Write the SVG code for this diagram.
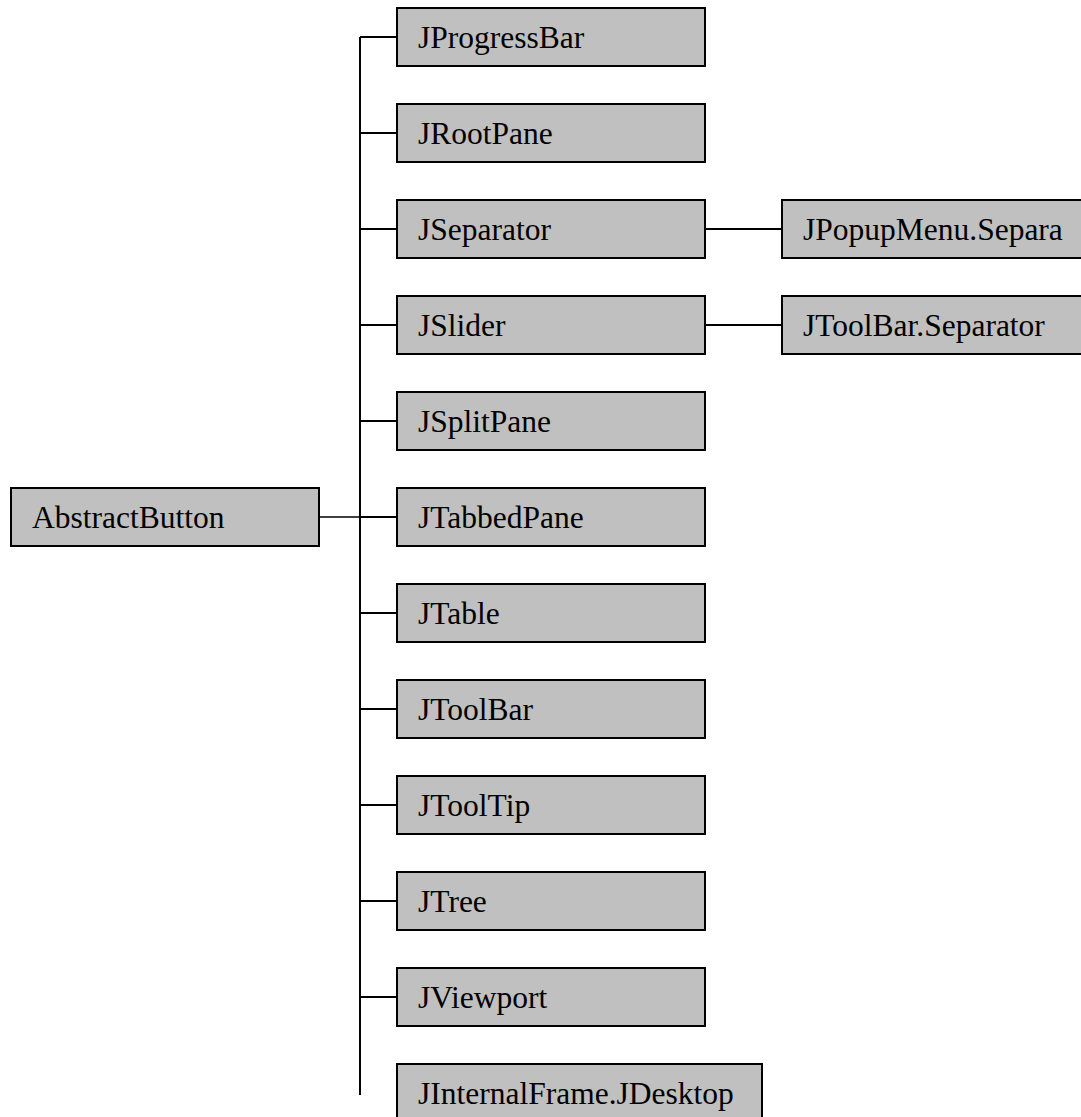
<svg xmlns="http://www.w3.org/2000/svg" width="1081" height="1117" viewBox="0 0 1081 1117">
<style>
.box{fill:#c0c0c0;stroke:#000;stroke-width:2}
.lbl{font-family:"Liberation Serif","Times New Roman",serif;font-size:31.5px;fill:#000}
.con{stroke:#000;stroke-width:2;fill:none}
</style>
<rect width="1081" height="1117" fill="#fff"/>
<g id="connectors">
<path class="con" d="M360 37V1095"/>
<path class="con" d="M319 517H360" style="stroke-width:1.5"/>
<path class="con" d="M360 37H397M360 133H397M360 229H397M360 325H397M360 421H397M360 517H397M360 613H397M360 709H397M360 805H397M360 901H397M360 997H397"/>
<path class="con" d="M705 229H782M705 325H782"/>
</g>
<g id="AbstractButton"><rect class="box" x="11" y="488" width="308" height="58"/><text class="lbl" x="32" y="528">AbstractButton</text></g>
<g id="JProgressBar"><rect class="box" x="397" y="8" width="308" height="58"/><text class="lbl" x="418" y="48">JProgressBar</text></g>
<g id="JRootPane"><rect class="box" x="397" y="104" width="308" height="58"/><text class="lbl" x="418" y="144">JRootPane</text></g>
<g id="JSeparator"><rect class="box" x="397" y="200" width="308" height="58"/><text class="lbl" x="418" y="240">JSeparator</text></g>
<g id="JSlider"><rect class="box" x="397" y="296" width="308" height="58"/><text class="lbl" x="418" y="336">JSlider</text></g>
<g id="JSplitPane"><rect class="box" x="397" y="392" width="308" height="58"/><text class="lbl" x="418" y="432">JSplitPane</text></g>
<g id="JTabbedPane"><rect class="box" x="397" y="488" width="308" height="58"/><text class="lbl" x="418" y="528">JTabbedPane</text></g>
<g id="JTable"><rect class="box" x="397" y="584" width="308" height="58"/><text class="lbl" x="418" y="624">JTable</text></g>
<g id="JToolBar"><rect class="box" x="397" y="680" width="308" height="58"/><text class="lbl" x="418" y="720">JToolBar</text></g>
<g id="JToolTip"><rect class="box" x="397" y="776" width="308" height="58"/><text class="lbl" x="418" y="816">JToolTip</text></g>
<g id="JTree"><rect class="box" x="397" y="872" width="308" height="58"/><text class="lbl" x="418" y="912">JTree</text></g>
<g id="JViewport"><rect class="box" x="397" y="968" width="308" height="58"/><text class="lbl" x="418" y="1008">JViewport</text></g>
<g id="JInternalFrame.JDesktop"><rect class="box" x="397" y="1064" width="365" height="58"/><text class="lbl" x="418" y="1104">JInternalFrame.JDesktop</text></g>
<g id="JPopupMenu.Separa"><rect class="box" x="782" y="200" width="308" height="58"/><text class="lbl" x="803" y="240">JPopupMenu.Separa</text></g>
<g id="JToolBar.Separator"><rect class="box" x="782" y="296" width="308" height="58"/><text class="lbl" x="803" y="336">JToolBar.Separator</text></g>
</svg>
